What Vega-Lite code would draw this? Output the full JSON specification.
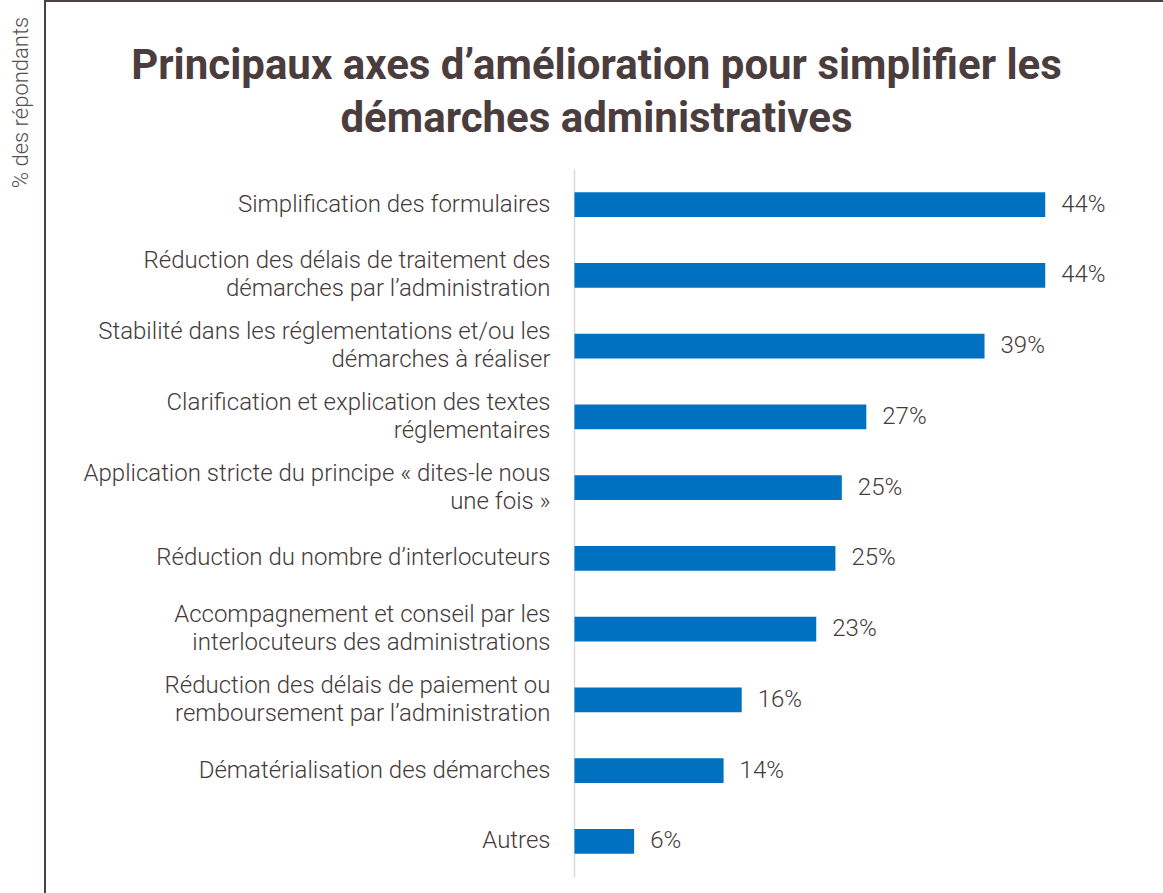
{
  "$schema": "https://vega.github.io/schema/vega-lite/v6.json",
  "width": 1121,
  "height": 895,
  "autosize": "none",
  "padding": {"left": 45, "top": 1, "right": -3, "bottom": -3},
  "background": "white",
  "title": {
    "text": ["Principaux axes d’amélioration pour simplifier les", "démarches administratives"],
    "anchor": "middle",
    "frame": "group",
    "font": "Roboto",
    "fontSize": 42,
    "fontWeight": "bold",
    "color": "#4b3d3d",
    "lineHeight": 53,
    "baseline": "alphabetic",
    "offset": -173,
    "dx": -9
  },
  "data": {
    "values": [
      {"cat": "Simplification des formulaires", "val": 44.2, "label": "44%"},
      {"cat": "Réduction des délais de traitement des|démarches par l’administration", "val": 44.2, "label": "44%"},
      {"cat": "Stabilité dans les réglementations et/ou les|démarches à réaliser", "val": 38.5, "label": "39%"},
      {"cat": "Clarification et explication des textes|réglementaires", "val": 27.4, "label": "27%"},
      {"cat": "Application stricte du principe « dites-le nous|une fois »", "val": 25.1, "label": "25%"},
      {"cat": "Réduction du nombre d’interlocuteurs", "val": 24.5, "label": "25%"},
      {"cat": "Accompagnement et conseil par les|interlocuteurs des administrations", "val": 22.7, "label": "23%"},
      {"cat": "Réduction des délais de paiement ou|remboursement par l’administration", "val": 15.7, "label": "16%"},
      {"cat": "Dématérialisation des démarches", "val": 14.0, "label": "14%"},
      {"cat": "Autres", "val": 5.6, "label": "6%"}
    ]
  },
  "encoding": {
    "y": {
      "field": "cat",
      "type": "nominal",
      "sort": null,
      "scale": {"range": [168, 876], "paddingInner": 0.65, "paddingOuter": 0.33},
      "axis": {
        "title": "% des répondants",
        "orient": "left",
        "offset": -529,
        "domainColor": "#d9d9d9",
        "domainWidth": 1.5,
        "ticks": false,
        "labelPadding": 24,
        "labelFont": "Roboto",
        "labelFontSize": 24,
        "labelFontWeight": 300,
        "labelColor": "#443a3a",
        "labelLineHeight": 28,
        "labelLimit": 0,
        "labelExpr": "split(datum.value, '|')",
        "labelOffset": {"condition": {"test": "indexof(datum.value, '|') >= 0", "value": -14}, "value": 0},
        "titleX": -554,
        "titleY": 101,
        "titleAngle": 270,
        "titleAlign": "center",
        "titleBaseline": "middle",
        "titleFont": "Roboto",
        "titleFontSize": 22,
        "titleFontWeight": 300,
        "titleColor": "#555050"
      }
    },
    "x": {
      "field": "val",
      "type": "quantitative",
      "scale": {"domain": [0, 50], "range": [529.5, 1062], "nice": false},
      "axis": null
    }
  },
  "layer": [
    {"mark": {"type": "bar", "color": "#0070C0"}},
    {
      "mark": {"type": "text", "align": "left", "baseline": "middle", "dx": 16, "font": "Roboto", "fontSize": 24, "fontWeight": 300, "color": "#443a3a"},
      "encoding": {"text": {"field": "label"}}
    }
  ],
  "config": {
    "view": {"stroke": "#4b3f3f", "strokeWidth": 2, "fill": "white"}
  }
}
